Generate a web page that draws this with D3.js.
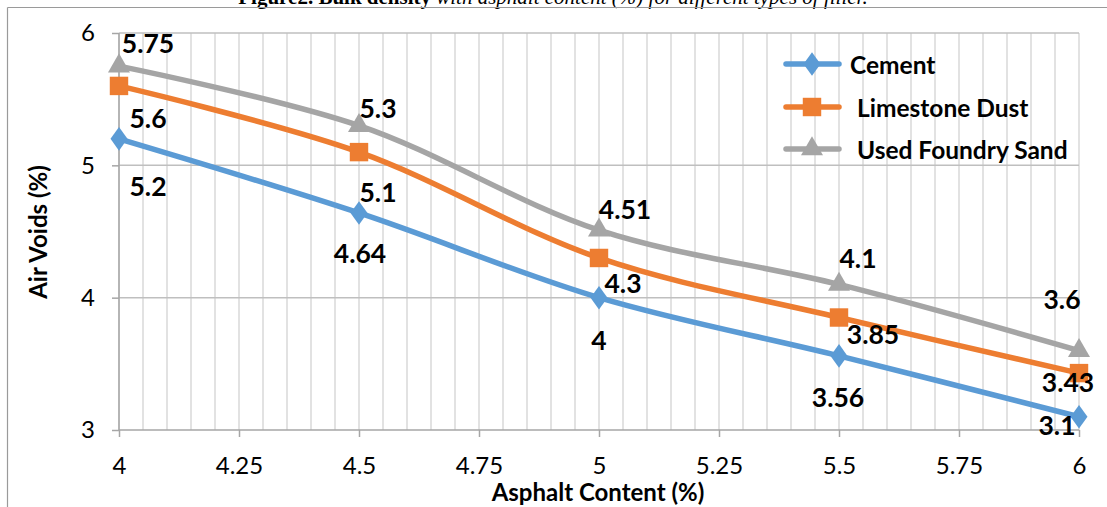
<!DOCTYPE html>
<html><head><meta charset="utf-8">
<script src="https://cdn.jsdelivr.net/npm/d3@7"></script>
<style>
html,body{margin:0;padding:0;background:#fff;}
svg{display:block;}
text{font-family:Lato,"Open Sans",sans-serif;}
</style></head>
<body>
<svg id="chart" width="1107" height="507"></svg>
<script>
const asphaltContent = [4, 4.5, 5, 5.5, 6];
const cement = [5.2, 4.64, 4, 3.56, 3.1];
const limestoneDust = [5.6, 5.1, 4.3, 3.85, 3.43];
const usedFoundrySand = [5.75, 5.3, 4.51, 4.1, 3.6];
const seriesNames = ["Cement", "Limestone Dust", "Used Foundry Sand"];
const xTickValues = [4, 4.25, 4.5, 4.75, 5, 5.25, 5.5, 5.75, 6];
const yTickValues = [3, 4, 5, 6];
const titleBold = "Figure2. Bulk density";
const titleRest = " with asphalt content (%) for different types of filler.";

const svg = d3.select("#chart");
const W = 1107, H = 507;
const m = {left: 119, right: 1079, top: 33, bottom: 430};
const x = d3.scaleLinear().domain([4, 6]).range([m.left, m.right]);
const y = d3.scaleLinear().domain([3, 6]).range([m.bottom, m.top]);

// title (clipped at top, as in the reference)
const t = svg.append("text").attr("x", 553).attr("y", 4).attr("text-anchor", "middle")
  .style("font-family", "'Liberation Serif', serif").style("font-size", "21px");
t.append("tspan").style("font-weight", "bold").text(titleBold);
t.append("tspan").style("font-style", "italic").text(titleRest);

// frame
svg.append("line").attr("x1", 7.5).attr("x2", W).attr("y1", 7.5).attr("y2", 7.5).attr("stroke", "#9a9a9a").attr("stroke-width", 1.2);
svg.append("line").attr("x1", 7.5).attr("x2", 7.5).attr("y1", 7.5).attr("y2", H).attr("stroke", "#9a9a9a").attr("stroke-width", 1.2);

// gridlines
const minor = d3.range(0, 41).map(i => 4 + i * 0.05);
svg.append("g").selectAll("line").data(minor).join("line")
  .attr("x1", d => x(d)).attr("x2", d => x(d)).attr("y1", m.top).attr("y2", m.bottom)
  .attr("stroke", "#d9d9d9").attr("stroke-width", 1.5);
svg.append("g").selectAll("line").data(yTickValues.slice(1)).join("line")
  .attr("x1", m.left).attr("x2", m.right).attr("y1", d => y(d)).attr("y2", d => y(d))
  .attr("stroke", "#bfbfbf").attr("stroke-width", 1.5);

// axes
const xAxis = d3.axisBottom(x).tickValues(xTickValues).tickSize(7).tickPadding(20).tickFormat(d => String(+d.toFixed(2)));
const gx = svg.append("g").attr("transform", `translate(0,${m.bottom})`).call(xAxis);
const yAxis = d3.axisLeft(y).tickValues(yTickValues).tickSize(7).tickPadding(17).tickFormat(d3.format("d"));
const gy = svg.append("g").attr("transform", `translate(${m.left},0)`).call(yAxis);
[gx, gy].forEach(g => {
  g.select(".domain").attr("stroke", "#a6a6a6").attr("stroke-width", 1.5);
  g.selectAll(".tick line").attr("stroke", "#a6a6a6").attr("stroke-width", 1.5);
  g.selectAll(".tick text").attr("fill", "#000").style("font-size", "24px").style("font-family", "Lato");
});
gx.select(".domain").attr("d", `M${m.left},0H${m.right}`);
gy.select(".domain").attr("d", `M0,${m.bottom}V${m.top}`);

// axis titles
svg.append("text").attr("x", 598).attr("y", 501).attr("text-anchor", "middle")
  .style("font-weight", "bold").style("font-size", "24px").text("Asphalt Content (%)");
svg.append("text").attr("transform", "translate(47,232) rotate(-90)").attr("text-anchor", "middle")
  .style("font-weight", "bold").style("font-size", "24px").text("Air Voids (%)");

const colors = ["#5B9BD5", "#ED7D31", "#A5A5A5"];
const symbols = [d3.symbolDiamond, d3.symbolSquare, d3.symbolTriangle];
const symSizes = [160, 340, 210];
const allSeries = [cement, limestoneDust, usedFoundrySand];
// label offsets (layout) per series per point
const labelOffsets = [
  [[29, 47], [1, 40], [0, 42], [-1, 41], [-22, 8]],
  [[29, 32], [19, 40], [24, 25], [34, 16], [-11, 9]],
  [[29, -23], [19, -18], [26, -21], [19, -26], [-17, -52]]
];
const line = d3.line().x(d => x(d[0])).y(d => y(d[1])).curve(d3.curveCatmullRom.alpha(0.5));

allSeries.forEach((vals, si) => {
  const pts = asphaltContent.map((a, i) => [a, vals[i]]);
  svg.append("path").datum(pts).attr("d", line).attr("fill", "none")
    .attr("stroke", colors[si]).attr("stroke-width", 5.5).attr("stroke-linecap", "round");
});
allSeries.forEach((vals, si) => {
  const pts = asphaltContent.map((a, i) => [a, vals[i]]);
  svg.append("g").selectAll("path").data(pts).join("path")
    .attr("transform", d => `translate(${x(d[0])},${y(d[1])})${si === 0 ? " scale(1.25,1)" : ""}`)
    .attr("d", d3.symbol().type(symbols[si]).size(symSizes[si]))
    .attr("fill", colors[si]);
});
allSeries.forEach((vals, si) => {
  const pts = asphaltContent.map((a, i) => [a, vals[i]]);
  svg.append("g").selectAll("text").data(pts).join("text")
    .attr("x", (d, i) => x(d[0]) + labelOffsets[si][i][0])
    .attr("y", (d, i) => y(d[1]) + labelOffsets[si][i][1])
    .attr("text-anchor", "middle").attr("dominant-baseline", "central")
    .style("font-weight", "bold").style("font-size", "26.5px").text(d => d[1]);
});

// legend
const legY = [64, 107, 149];
const legTextX = [850, 857, 857];
seriesNames.forEach((name, si) => {
  const g = svg.append("g");
  g.append("line").attr("x1", 786).attr("x2", 839).attr("y1", legY[si]).attr("y2", legY[si])
    .attr("stroke", colors[si]).attr("stroke-width", 5.5).attr("stroke-linecap", "round");
  g.append("path").attr("transform", `translate(812,${legY[si]})${si === 0 ? " scale(1.25,1)" : ""}`)
    .attr("d", d3.symbol().type(symbols[si]).size(symSizes[si])).attr("fill", colors[si]);
  g.append("text").attr("x", legTextX[si]).attr("y", legY[si]).attr("dominant-baseline", "central")
    .style("font-weight", "bold").style("font-size", "24.5px").text(name);
});
</script>
</body></html>
